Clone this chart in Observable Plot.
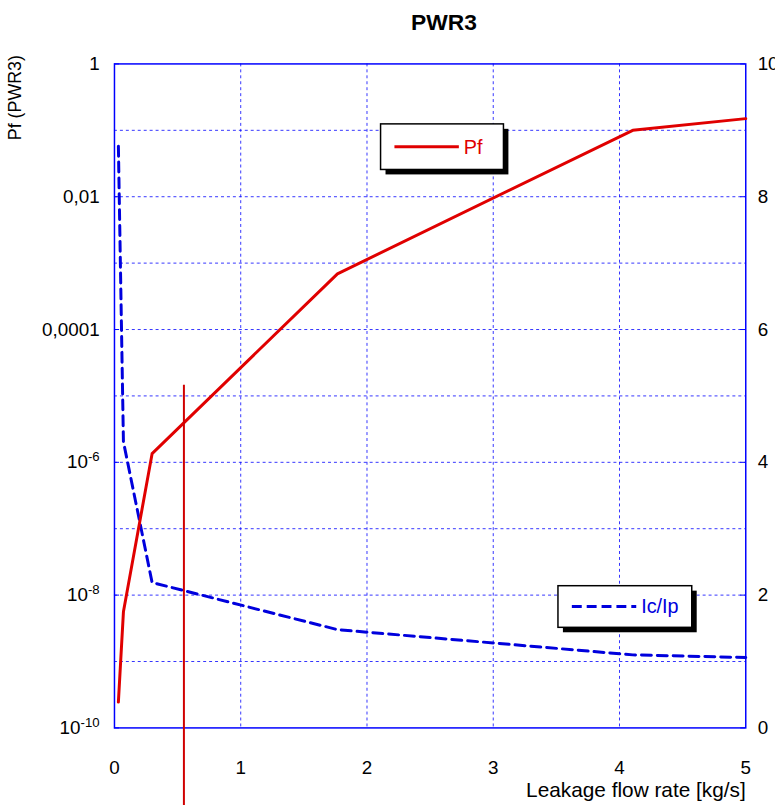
<!DOCTYPE html>
<html>
<head>
<meta charset="utf-8">
<script src="https://cdn.jsdelivr.net/npm/d3@7"></script>
<script src="https://cdn.jsdelivr.net/npm/@observablehq/plot@0.6"></script>
<style>
  body { margin: 0; background: #fff; }
  #chart { width: 775px; height: 812px; overflow: hidden; }
  #chart svg text { font-family: "Liberation Sans", Arial, sans-serif; }
</style>
</head>
<body>
<div id="chart"></div>
<script>
// Leakage flow rate [kg/s] at which each curve is evaluated
const flowRate = [0.031, 0.071, 0.298, 1.766, 4.105, 5];
// Failure probability Pf (left, log axis)
const pf = [2.45e-10, 5.6e-9, 1.35e-6, 6.9e-4, 0.1, 0.15];
// Ic/Ip ratio (right, linear axis 0–10)
const icIp = [8.76, 4.31, 2.19, 1.48, 1.10, 1.06];

// Axis ticks and labels
const xTicks = [0, 1, 2, 3, 4, 5];
const pfTicks = [1, 1e-2, 1e-4, 1e-6, 1e-8, 1e-10];
const pfTickLabels = ["1", "0,01", "0,0001", "10^-6", "10^-8", "10^-10"];
const ratioTicks = [0, 2, 4, 6, 8, 10];
const gridDecades = [1e-9, 1e-8, 1e-7, 1e-6, 1e-5, 1e-4, 1e-3, 1e-2, 1e-1];
const gridFlow = [1, 2, 3, 4];

// Vertical marker line
const markerFlow = 0.55;
const markerTop = 10 ** -4.84;

// The right axis (0–10, linear) shares the vertical extent of the log axis
// (1e-10 … 1): ten decades for ten units.
const ratioToPf = v => 10 ** (v - 10);

const rows = flowRate.map((x, i) => ({x, pf: pf[i], ratio: icIp[i]}));
const pfLabel = new Map(pfTicks.map((t, i) => [t, pfTickLabels[i]]));
const ratioLabel = new Map(ratioTicks.map(v => [ratioToPf(v), String(v)]));

const blue = "#0000ff";
const red = "#e00000";
const gridStyle = {stroke: blue, strokeWidth: 1, strokeDasharray: "3,3", strokeOpacity: 0.8};

const plot = Plot.plot({
  width: 782,
  height: 812,
  marginTop: 64,
  marginBottom: 78,
  marginLeft: 115,
  marginRight: 30,
  style: {fontFamily: "Liberation Sans, Arial, sans-serif", fontSize: "19px", color: "#000", background: "#fff"},
  x: {domain: [0, 5]},
  y: {type: "log", domain: [1e-10, 1]},
  marks: [
    Plot.ruleY(gridDecades, gridStyle),
    Plot.ruleX(gridFlow, gridStyle),
    Plot.ruleY(pfTicks, {x1: 0, x2: 0.04, stroke: blue, strokeWidth: 1}),
    Plot.ruleY(ratioTicks.map(ratioToPf), {x1: 4.96, x2: 5, stroke: blue, strokeWidth: 1}),
    Plot.frame({stroke: blue, strokeWidth: 1.5}),
    Plot.axisX(xTicks, {anchor: "bottom", tickSize: 0, tickPadding: 33, tickFormat: d => String(d), label: null, fontSize: 19}),
    Plot.axisY(pfTicks, {anchor: "left", tickSize: 0, tickPadding: 15, tickFormat: d => pfLabel.get(d), label: null, fontSize: 19}),
    Plot.axisY(ratioTicks.map(ratioToPf), {anchor: "right", tickSize: 0, tickPadding: 12, tickFormat: d => ratioLabel.get(d), textAnchor: "start", label: null, fontSize: 19}),
    Plot.line(rows, {x: "x", y: d => ratioToPf(d.ratio), stroke: "#0000dd", strokeWidth: 3, strokeDasharray: "10,6"}),
    Plot.line(rows, {x: "x", y: "pf", stroke: red, strokeWidth: 3}),
    Plot.ruleX([markerFlow], {y1: markerTop, y2: 1e-12, stroke: "#d00000", strokeWidth: 2}),
    Plot.text(["PWR3"], {frameAnchor: "top", dx: 14, dy: -42, lineAnchor: "middle", fontSize: 23, fontWeight: "bold"}),
    Plot.text(["Pf (PWR3)"], {frameAnchor: "top-left", dx: -100, dy: 34, rotate: -90, textAnchor: "middle", lineAnchor: "middle", fontSize: 18}),
    Plot.text(["Leakage flow rate [kg/s]"], {frameAnchor: "bottom-right", dy: 63, textAnchor: "end", lineAnchor: "middle", fontSize: 21})
  ]
});

const svg = d3.select(plot);

// Power-of-ten labels: "10^-6" → 10 with a raised exponent
svg.selectAll("text").each(function () {
  const t = this.textContent;
  if (t.includes("^")) {
    const [base, exp] = t.split("^");
    const sel = d3.select(this);
    sel.text(null);
    sel.append("tspan").text(base);
    sel.append("tspan").attr("dy", "-0.55em").attr("font-size", "0.7em").text(exp);
  }
});

// Boxed legend entries with a drop shadow
function legendBox(x, y, w, h, color, dash, label) {
  const g = svg.append("g").attr("text-anchor", "start");
  g.append("rect").attr("x", x + 5).attr("y", y + 5).attr("width", w).attr("height", h).attr("fill", "#000");
  g.append("rect").attr("x", x).attr("y", y).attr("width", w).attr("height", h)
    .attr("fill", "#fff").attr("stroke", "#000").attr("stroke-width", 1.5);
  g.append("line").attr("x1", x + 14).attr("x2", x + 79).attr("y1", y + h / 2).attr("y2", y + h / 2)
    .attr("stroke", color).attr("stroke-width", 3).attr("stroke-dasharray", dash);
  g.append("text").attr("x", x + 84).attr("y", y + h / 2).attr("dy", "0.35em")
    .attr("text-anchor", "start").attr("fill", color).attr("font-size", 20).text(label);
}
legendBox(384, 125, 124, 46, red, null, "Pf");
legendBox(563, 591, 135, 42, "#0000dd", "10,5", "Ic/Ip");

document.getElementById("chart").appendChild(plot);
</script>
</body>
</html>
